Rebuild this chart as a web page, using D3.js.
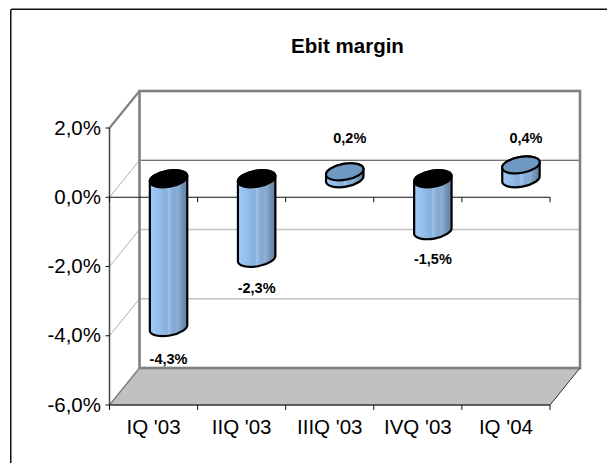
<!DOCTYPE html>
<head>
<meta charset="utf-8">
<script src="https://d3js.org/d3.v7.min.js"></script>
<style>
body { margin: 0; background: #fff; }
text { font-family: "Liberation Sans", Arial, sans-serif; fill: #000; }
</style>
</head>
<body>
<svg id="chart" width="607" height="463" style="display:block"></svg>
<script>
const categories = ["IQ '03", "IIQ '03", "IIIQ '03", "IVQ '03", "IQ '04"];
const margins = [-4.3, -2.3, 0.2, -1.5, 0.4];
const marginLabels = ["-4,3%", "-2,3%", "0,2%", "-1,5%", "0,4%"];
const yTicks = [-6, -4, -2, 0, 2];
const yTickLabels = ["-6,0%", "-4,0%", "-2,0%", "0,0%", "2,0%"];

const svg = d3.select("#chart");

// front plane of the fake 3d box, the back wall is the same thing shifted
const x = d3.scaleBand().domain(categories).range([109.5, 550]);
const y = d3.scaleLinear().domain([-6, 2]).range([405, 128]);
const depthX = 30, depthY = -37;

// outer frame, only top and left are inside the picture
svg.append("path")
  .attr("d", "M11.5,463V8.5H607")
  .attr("fill", "none").attr("stroke", "#888").attr("stroke-width", 1);
svg.append("path")
  .attr("d", "M10.5,463V9.5H607")
  .attr("fill", "none").attr("stroke", "#111").attr("stroke-width", 1);

svg.append("text")
  .attr("x", 347.5).attr("y", 53)
  .attr("text-anchor", "middle")
  .attr("font-weight", "bold").attr("font-size", 20.5)
  .text("Ebit margin");

const back = svg.append("g");

// floor
const x0 = x.range()[0], x1 = x.range()[1];
back.append("polygon")
  .attr("points", [[x0, y(-6)], [x1, y(-6)], [x1 + depthX, y(-6) + depthY], [x0 + depthX, y(-6) + depthY]].join(" "))
  .attr("fill", "#c0c0c0");

// gridlines on back wall and the side wall
[-4, -2].forEach(t => {
  back.append("line")
    .attr("x1", x0 + depthX).attr("x2", x1 + depthX)
    .attr("y1", y(t) + depthY).attr("y2", y(t) + depthY)
    .attr("stroke", "#c0c0c0").attr("stroke-width", 1.5);
  back.append("line")
    .attr("x1", x0).attr("x2", x0 + depthX)
    .attr("y1", y(t)).attr("y2", y(t) + depthY)
    .attr("stroke", "#999").attr("stroke-width", 0.8);
});
back.append("line")
  .attr("x1", x0).attr("x2", x0 + depthX)
  .attr("y1", y(0)).attr("y2", y(0) + depthY)
  .attr("stroke", "#999").attr("stroke-width", 0.8);
back.append("line")
  .attr("x1", x0 + depthX).attr("x2", x1 + depthX)
  .attr("y1", y(0) + depthY).attr("y2", y(0) + depthY)
  .attr("stroke", "#444").attr("stroke-width", 1.2);

// wall border
back.append("rect")
  .attr("x", x0 + depthX).attr("y", y(2) + depthY)
  .attr("width", x1 - x0).attr("height", y(-6) - y(2))
  .attr("fill", "none").attr("stroke", "#808080").attr("stroke-width", 2.6);
back.append("line")
  .attr("x1", x0).attr("y1", y(2))
  .attr("x2", x0 + depthX).attr("y2", y(2) + depthY)
  .attr("stroke", "#808080").attr("stroke-width", 2.2);
back.append("line")
  .attr("x1", x0).attr("y1", y(-6))
  .attr("x2", x0 + depthX).attr("y2", y(-6) + depthY)
  .attr("stroke", "#808080").attr("stroke-width", 1.5);
back.append("line")
  .attr("x1", x1).attr("y1", y(-6))
  .attr("x2", x1 + depthX).attr("y2", y(-6) + depthY)
  .attr("stroke", "#333").attr("stroke-width", 1);

// banded cylinder shading
const grad = svg.append("defs").append("linearGradient").attr("id", "cyl");
[[0, "#a0caf6"], [0.25, "#93bdea"], [0.45, "#86aed9"], [0.5, "#9cc2e8"], [0.62, "#84a9d2"],
 [0.75, "#8aadd2"], [0.88, "#6f90b5"], [1, "#5f7f9f"]].forEach(s => {
  grad.append("stop").attr("offset", s[0]).attr("stop-color", s[1]);
});

// axes
const axisG = svg.append("g");
axisG.append("line")
  .attr("x1", x0).attr("x2", x0)
  .attr("y1", y(2)).attr("y2", y(-6))
  .attr("stroke", "#444").attr("stroke-width", 1.5);
axisG.append("line")
  .attr("x1", x0).attr("x2", x1)
  .attr("y1", y(-6)).attr("y2", y(-6))
  .attr("stroke", "#333").attr("stroke-width", 1.5);
axisG.append("line")
  .attr("x1", x0).attr("x2", x1)
  .attr("y1", y(0)).attr("y2", y(0))
  .attr("stroke", "#111").attr("stroke-width", 1.2);

yTicks.forEach((t, i) => {
  axisG.append("line")
    .attr("x1", x0 - 4).attr("x2", x0)
    .attr("y1", y(t)).attr("y2", y(t))
    .attr("stroke", "#111");
  axisG.append("text")
    .attr("x", x0 - 8.5).attr("y", y(t) + 6.5)
    .attr("text-anchor", "end").attr("font-size", 20.5)
    .text(yTickLabels[i]);
});

const tickXs = categories.map(c => x(c)).concat([x1]);
tickXs.forEach(tx => {
  [y(-6), y(0)].forEach(base => {
    axisG.append("line")
      .attr("x1", tx).attr("x2", tx)
      .attr("y1", base).attr("y2", base + 5)
      .attr("stroke", "#111");
  });
});
categories.forEach(c => {
  axisG.append("text")
    .attr("x", x(c) + x.bandwidth() / 2).attr("y", y(-6) + 29)
    .attr("text-anchor", "middle").attr("font-size", 20.5)
    .text(c);
});

// cylinders stand half way into the depth
const rx = 19, ry = 8, tilt = -10;
const midY = v => y(v) + depthY / 2;
const cx = c => x(c) + x.bandwidth() / 2 + depthX / 2;
const dx = rx * Math.cos(tilt * Math.PI / 180);
const dy = rx * Math.sin(tilt * Math.PI / 180);

const bars = svg.append("g").selectAll("g")
  .data(categories.map((c, i) => ({ c: c, v: margins[i], label: marginLabels[i] })))
  .join("g");

bars.append("path")
  .attr("d", d => {
    const c = cx(d.c);
    const top = midY(Math.max(d.v, 0));
    const bot = midY(Math.min(d.v, 0));
    return `M${c - dx},${top - dy} L${c - dx},${bot - dy}` +
      `A${rx},${ry} ${tilt} 0 0 ${c + dx},${bot + dy}` +
      `L${c + dx},${top + dy}` +
      `A${rx},${ry} ${tilt} 0 0 ${c - dx},${top - dy}Z`;
  })
  .attr("fill", "url(#cyl)")
  .attr("stroke", "#000").attr("stroke-width", 2.2);

bars.append("ellipse")
  .attr("transform", d => `translate(${cx(d.c)},${midY(Math.max(d.v, 0))}) rotate(${tilt})`)
  .attr("rx", rx).attr("ry", ry)
  .attr("fill", d => d.v < 0 ? "#000" : "#6f98c3")
  .attr("stroke", "#000").attr("stroke-width", 2.2);

// value labels: below the negative bars, on one level above the positive ones
bars.append("text")
  .attr("x", d => d.v < 0 ? cx(d.c) : cx(d.c) + 5)
  .attr("y", d => d.v < 0 ? midY(d.v) + 32 - d.v : 143)
  .attr("text-anchor", "middle")
  .attr("font-weight", "bold").attr("font-size", 14.5)
  .text(d => d.label);
</script>
</body>
